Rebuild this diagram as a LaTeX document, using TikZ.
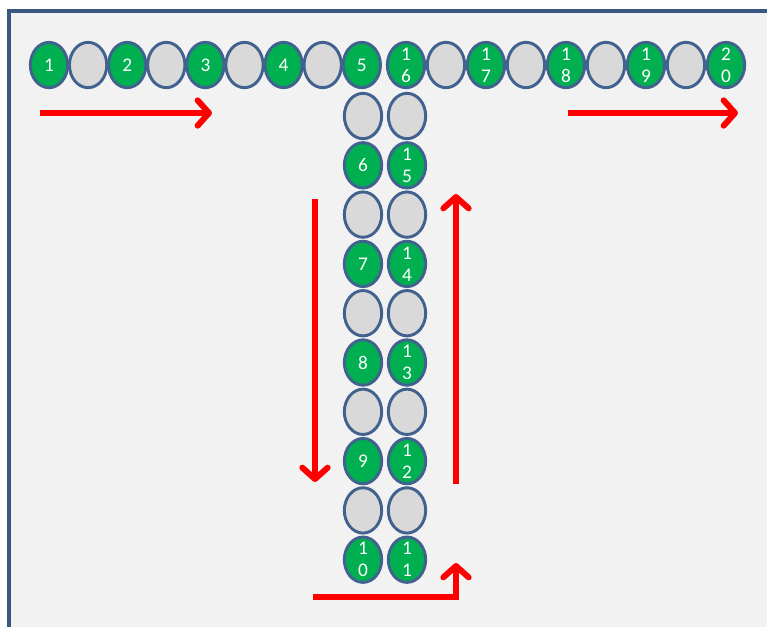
\documentclass[tikz,border=0pt]{standalone}
\usepackage{fontspec}
\setmainfont{Carlito}
\usetikzlibrary{shapes.geometric,arrows.meta}
\definecolor{ongreen}{HTML}{00B050}
\definecolor{offgray}{HTML}{D9D9D9}
\definecolor{rim}{HTML}{41628F}
\definecolor{panel}{HTML}{F2F2F2}
\tikzset{
  ball/.style={ellipse,draw=rim,line width=2.2pt,inner sep=0pt,minimum width=28pt,minimum height=34pt},
  on/.style={ball,fill=ongreen},
  off/.style={ball,fill=offgray},
  num/.style={text=white,align=center,inner sep=0pt,font=\fontsize{14.5}{16.5}\selectfont},
  flow/.style={red,line width=4.5pt,-{Straight Barb[length=8.5pt,width=19pt,round]}}
}
\begin{document}
\begin{tikzpicture}[x=0.75pt,y=-0.75pt]
    \clip (0,0) rectangle (767,626);
    \fill[white] (0,0) rectangle (767,626);
    \fill[panel] (8,11) rectangle (800,660);
    \draw[rim!90!black,line width=3pt] (8.5,660) |- (800,11.3);

    % top row
    \foreach \lab/\sty [count=\i from 0] in {1/on,/off,2/on,/off,3/on,/off,4/on,/off,5/on}
      \node[\sty,label={[num]center:\lab}] (a\i) at (49+39.1*\i,65) {};
    \foreach \lab/\sty [count=\i from 0] in {{1\\6}/on,/off,{1\\7}/on,/off,{1\\8}/on,/off,{1\\9}/on,/off,{2\\0}/on}
      \node[\sty,label={[num]center:\lab}] (b\i) at (406+40*\i,65) {};

    % stem
    \foreach \lab/\sty [count=\i from 0] in {/off,6/on,/off,7/on,/off,8/on,/off,9/on,/off,{1\\0}/on}
      \node[\sty,label={[num]center:\lab}] (l\i) at (363,116+49.3*\i) {};
    \foreach \lab/\sty [count=\i from 0] in {/off,{1\\5}/on,/off,{1\\4}/on,/off,{1\\3}/on,/off,{1\\2}/on,/off,{1\\1}/on}
      \node[\sty,label={[num]center:\lab}] (r\i) at (407,116+49.3*\i) {};

    % direction arrows
    \coordinate (inS) at (40,113);   \coordinate (inE) at (212,113);
    \coordinate (outS) at (568,113); \coordinate (outE) at (738,113);
    \coordinate (dnS) at (315,199);  \coordinate (dnE) at (315,482);
    \coordinate (upS) at (456,484);  \coordinate (upE) at (456,194);
    \coordinate (btS) at (313,597);  \coordinate (btE) at (456,563);
    \draw[flow] (inS) -- (inE);
    \draw[flow] (outS) -- (outE);
    \draw[flow] (dnS) -- (dnE);
    \draw[flow] (upS) -- (upE);
    \draw[flow] (btS) -| (btE);
\end{tikzpicture}
\end{document}
